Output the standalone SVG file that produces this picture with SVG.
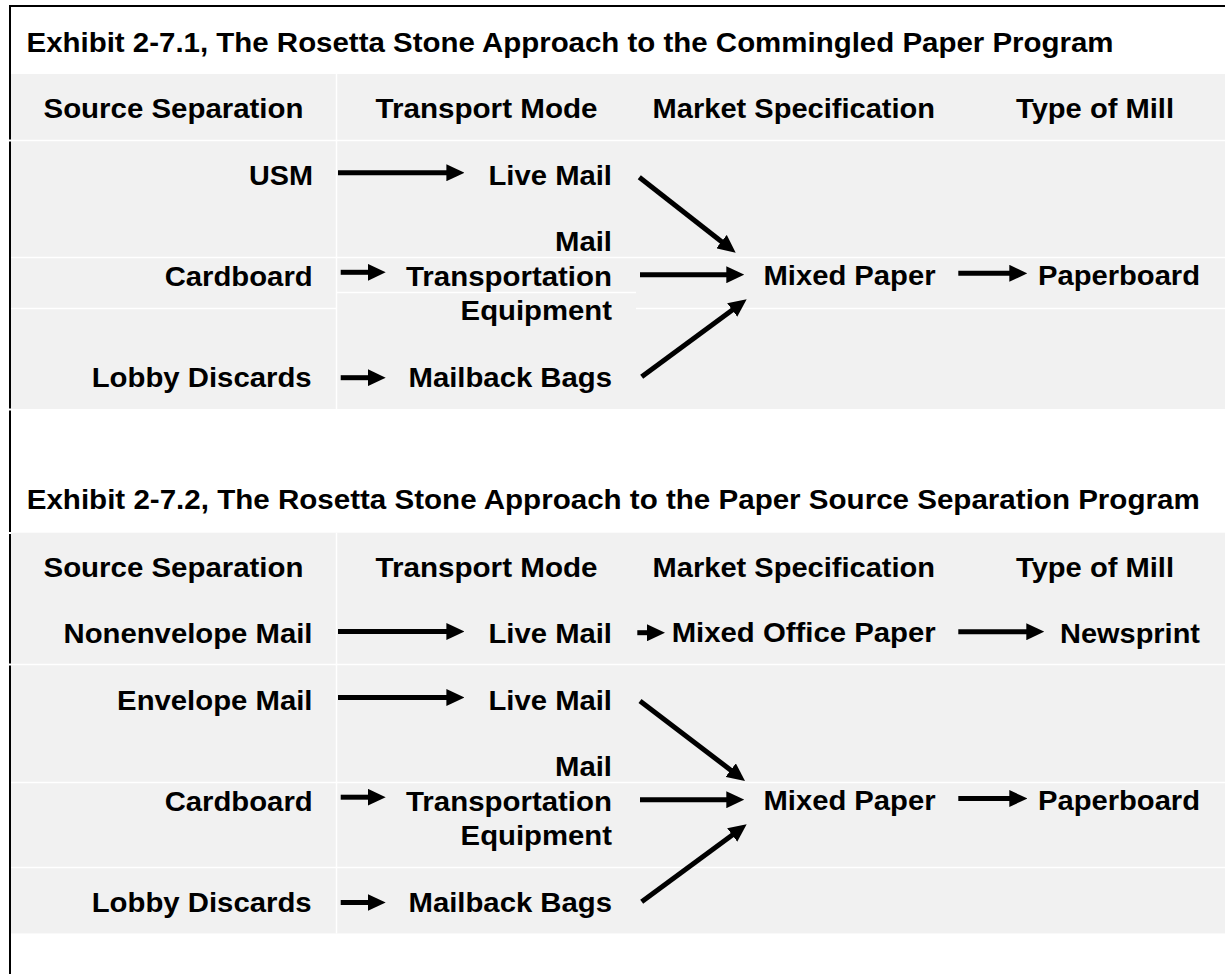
<svg xmlns="http://www.w3.org/2000/svg" width="1225" height="974" viewBox="0 0 1225 974">
<style>
.t{font-family:"Liberation Sans",Arial,sans-serif;font-weight:bold;font-size:27px;fill:#000}
.panel{fill:#f1f1f1}
.sep{stroke:#fff;stroke-width:1.5;fill:none}
.bd{stroke:#000;stroke-width:2;fill:none}
.ar{stroke:#000;stroke-width:5;fill:none;marker-end:url(#ah)}
</style>
<defs>
<marker id="ah" markerUnits="userSpaceOnUse" markerWidth="18" markerHeight="17" viewBox="0 0 18 17" refX="1" refY="8.5" orient="auto"><path d="M0,0 L18,8.5 L0,17 z" fill="#000"/></marker>
</defs>
<rect width="1225" height="974" fill="#fff"/>
<g id="frame">
<line class="bd" x1="9" y1="6" x2="1225" y2="6"/>
<line class="bd" x1="10" y1="5" x2="10" y2="139.5"/>
<line class="bd" x1="10" y1="141.5" x2="10" y2="408.5"/>
<line class="bd" x1="10" y1="410.5" x2="10" y2="532"/>
<line class="bd" x1="10" y1="534" x2="10" y2="663.5"/>
<line class="bd" x1="10" y1="665.5" x2="10" y2="974"/>
</g>
<g id="panel1">
<rect class="panel" x="11" y="74" width="1214" height="335"/>
<path class="sep" d="M11,140.5H1225 M336.5,74V409 M11,257.5H1225 M336.5,292.5H636 M11,308.5H336.5 M636,308.5H1225"/>
</g>
<g id="panel2">
<rect class="panel" x="11" y="532.7" width="1214" height="400.7"/>
<path class="sep" d="M336.5,532.7V933.4 M11,664.5H1225 M11,782.5H1225 M11,867.5H1225"/>
</g>
<g id="title1"><text class="t" x="26.5" y="51.7" textLength="1087" lengthAdjust="spacingAndGlyphs">Exhibit 2-7.1, The Rosetta Stone Approach to the Commingled Paper Program</text></g>
<g id="title2"><text class="t" x="26.7" y="509.3" textLength="1173" lengthAdjust="spacingAndGlyphs">Exhibit 2-7.2, The Rosetta Stone Approach to the Paper Source Separation Program</text></g>
<g id="p1-headers">
<text class="t" x="43.5" y="118.3" textLength="260" lengthAdjust="spacingAndGlyphs">Source Separation</text>
<text class="t" x="375.5" y="118.3" textLength="222" lengthAdjust="spacingAndGlyphs">Transport Mode</text>
<text class="t" x="652.6" y="118.3" textLength="282.4" lengthAdjust="spacingAndGlyphs">Market Specification</text>
<text class="t" x="1016" y="118.3" textLength="158" lengthAdjust="spacingAndGlyphs">Type of Mill</text>
</g>
<g id="p1-usm"><text class="t" x="249" y="185" textLength="64" lengthAdjust="spacingAndGlyphs">USM</text></g>
<g id="p1-livemail"><text class="t" x="488.5" y="185" textLength="123.5" lengthAdjust="spacingAndGlyphs">Live Mail</text></g>
<g id="p1-cardboard"><text class="t" x="164.7" y="285.7" textLength="148" lengthAdjust="spacingAndGlyphs">Cardboard</text></g>
<g id="p1-mte">
<text class="t" x="555" y="251" textLength="57" lengthAdjust="spacingAndGlyphs">Mail</text>
<text class="t" x="406" y="285.7" textLength="206" lengthAdjust="spacingAndGlyphs">Transportation</text>
<text class="t" x="460.6" y="320" textLength="151.4" lengthAdjust="spacingAndGlyphs">Equipment</text>
</g>
<g id="p1-lobby"><text class="t" x="91.7" y="386.7" textLength="220" lengthAdjust="spacingAndGlyphs">Lobby Discards</text></g>
<g id="p1-mailback"><text class="t" x="408.5" y="386.7" textLength="203.5" lengthAdjust="spacingAndGlyphs">Mailback Bags</text></g>
<g id="p1-mixed"><text class="t" x="763.5" y="285" textLength="172" lengthAdjust="spacingAndGlyphs">Mixed Paper</text></g>
<g id="p1-paperboard"><text class="t" x="1038" y="285" textLength="162" lengthAdjust="spacingAndGlyphs">Paperboard</text></g>
<g id="p2-headers">
<text class="t" x="43.5" y="577" textLength="260" lengthAdjust="spacingAndGlyphs">Source Separation</text>
<text class="t" x="375.5" y="577" textLength="222" lengthAdjust="spacingAndGlyphs">Transport Mode</text>
<text class="t" x="652.6" y="577" textLength="282.4" lengthAdjust="spacingAndGlyphs">Market Specification</text>
<text class="t" x="1016" y="577" textLength="158" lengthAdjust="spacingAndGlyphs">Type of Mill</text>
</g>
<g id="p2-nonenvelope"><text class="t" x="63.5" y="642.6" textLength="249" lengthAdjust="spacingAndGlyphs">Nonenvelope Mail</text></g>
<g id="p2-livemail1"><text class="t" x="488.5" y="642.6" textLength="123.5" lengthAdjust="spacingAndGlyphs">Live Mail</text></g>
<g id="p2-mop"><text class="t" x="671.7" y="642" textLength="264" lengthAdjust="spacingAndGlyphs">Mixed Office Paper</text></g>
<g id="p2-newsprint"><text class="t" x="1060" y="642.6" textLength="140" lengthAdjust="spacingAndGlyphs">Newsprint</text></g>
<g id="p2-envelope"><text class="t" x="117.1" y="709.8" textLength="195.4" lengthAdjust="spacingAndGlyphs">Envelope Mail</text></g>
<g id="p2-livemail2"><text class="t" x="488.5" y="709.8" textLength="123.5" lengthAdjust="spacingAndGlyphs">Live Mail</text></g>
<g id="p2-cardboard"><text class="t" x="164.7" y="810.5" textLength="148" lengthAdjust="spacingAndGlyphs">Cardboard</text></g>
<g id="p2-mte">
<text class="t" x="555" y="776" textLength="57" lengthAdjust="spacingAndGlyphs">Mail</text>
<text class="t" x="406" y="810.5" textLength="206" lengthAdjust="spacingAndGlyphs">Transportation</text>
<text class="t" x="460.6" y="845" textLength="151.4" lengthAdjust="spacingAndGlyphs">Equipment</text>
</g>
<g id="p2-lobby"><text class="t" x="91.7" y="911.7" textLength="220" lengthAdjust="spacingAndGlyphs">Lobby Discards</text></g>
<g id="p2-mailback"><text class="t" x="408.5" y="911.7" textLength="203.5" lengthAdjust="spacingAndGlyphs">Mailback Bags</text></g>
<g id="p2-mixed"><text class="t" x="763.5" y="810" textLength="172" lengthAdjust="spacingAndGlyphs">Mixed Paper</text></g>
<g id="p2-paperboard"><text class="t" x="1038" y="810" textLength="162" lengthAdjust="spacingAndGlyphs">Paperboard</text></g>
<g id="connectors">
<path class="ar" d="M338,172.7H447.4"/>
<path class="ar" d="M340.7,272.3H368.7"/>
<path class="ar" d="M340.7,377.7H368.7"/>
<path class="ar" d="M639.3,177.3L722.3,242.2"/>
<path class="ar" d="M640,274.7H727.3"/>
<path class="ar" d="M641.7,376.7L733,309.4"/>
<path class="ar" d="M958.3,273.3H1010.3"/>
<path class="ar" d="M338,631.5H447.4"/>
<path class="ar" d="M637.3,632.7H648"/>
<path class="ar" d="M958.3,631.7H1027.3"/>
<path class="ar" d="M338,697.5H447.4"/>
<path class="ar" d="M340.7,797.2H368.7"/>
<path class="ar" d="M340.7,902.5H368.7"/>
<path class="ar" d="M640,701L731.5,770.7"/>
<path class="ar" d="M640,799.7H727.3"/>
<path class="ar" d="M641.7,901.7L733,834.4"/>
<path class="ar" d="M958.3,798.5H1010.3"/>
</g>
</svg>
